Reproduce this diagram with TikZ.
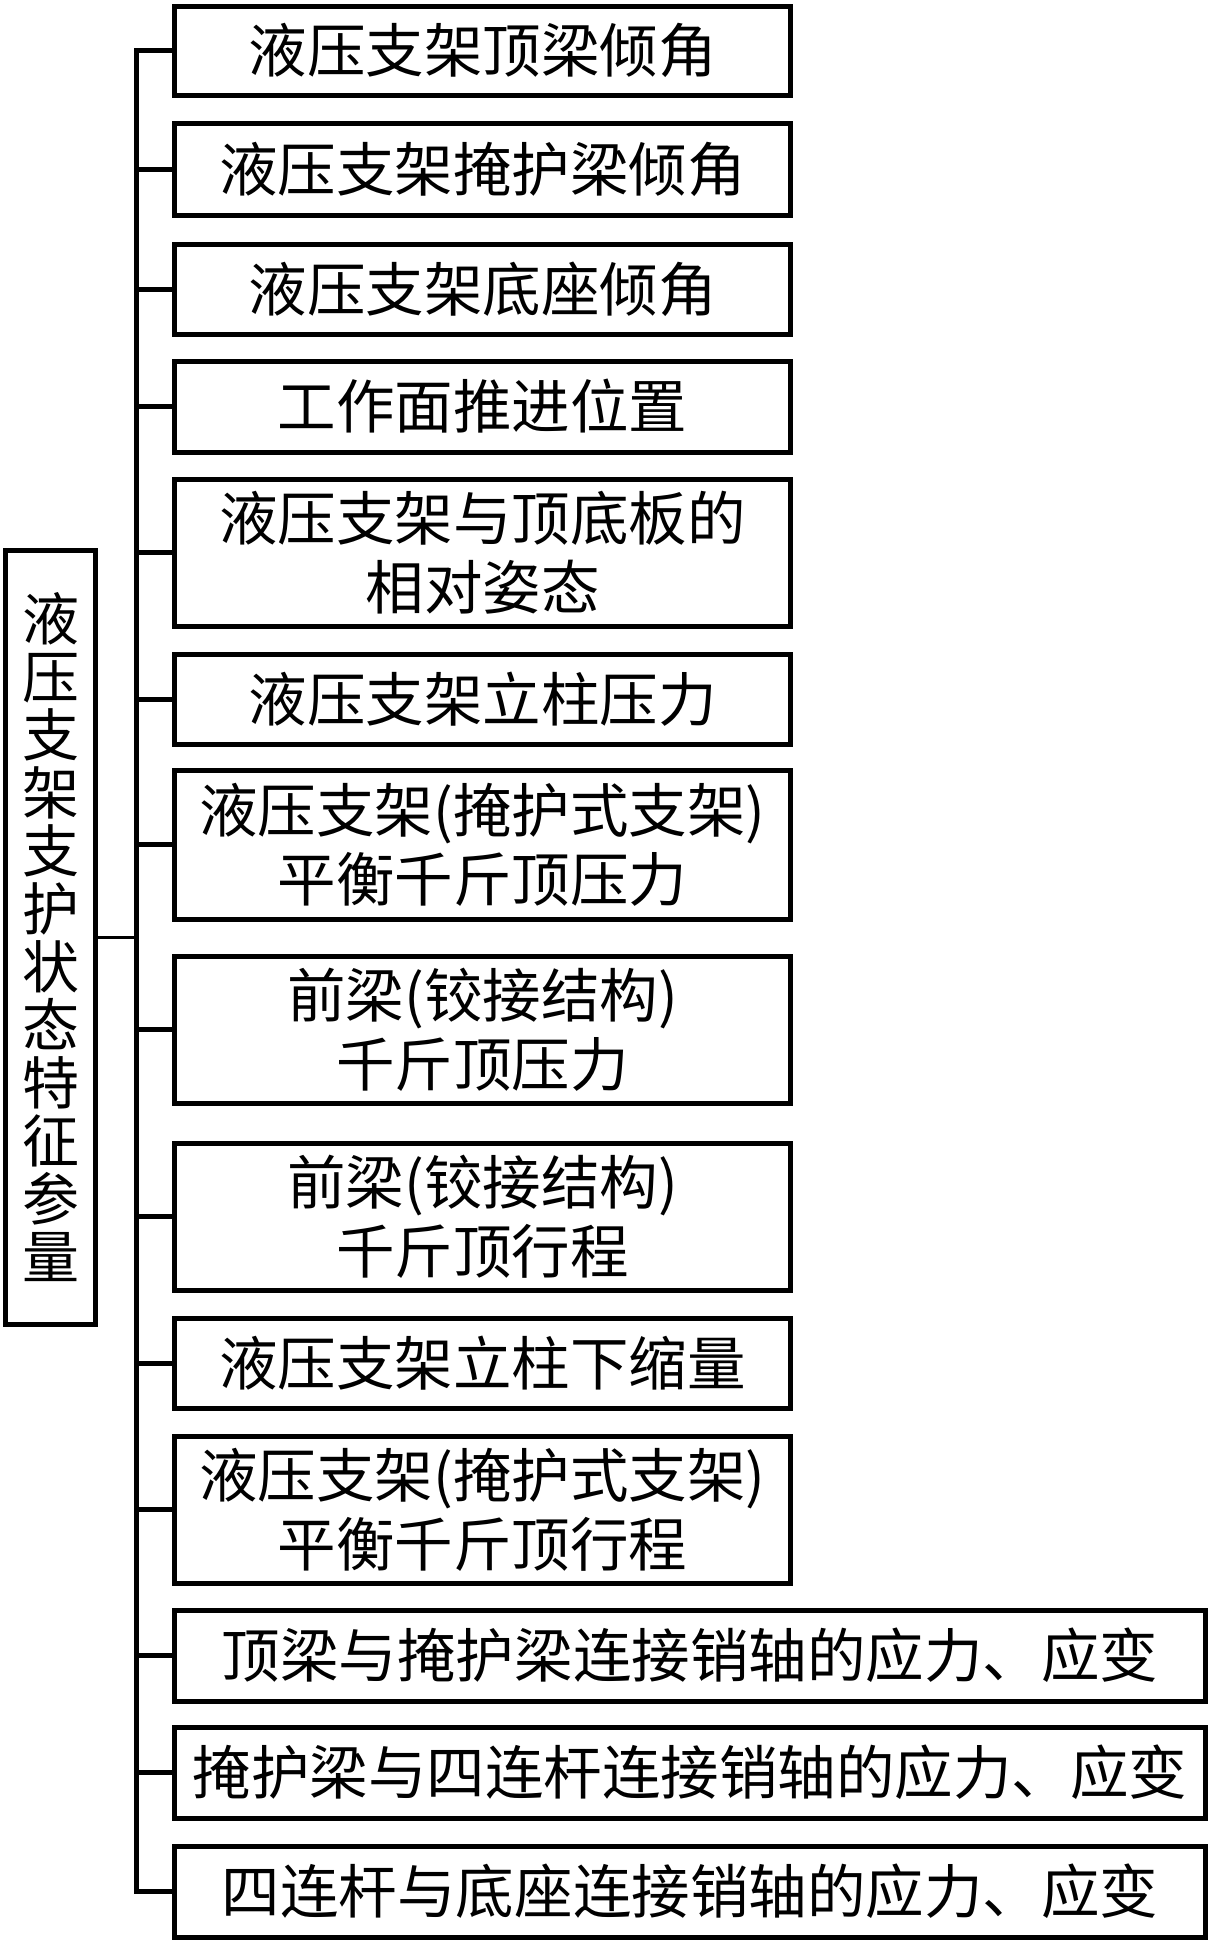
\documentclass[tikz,border=0pt]{standalone}
\usepackage{fontspec}
\newfontfamily\cjk{Noto Sans CJK SC}
\begin{document}
\begin{tikzpicture}[x=1bp,y=-1bp,
  box/.style={draw, line width=5bp, minimum width=615bp, inner sep=0pt,
    align=center, font=\cjk\fontsize{58.5bp}{69bp}\selectfont},
  longbox/.style={box, minimum width=1030bp},
  rootbox/.style={draw, line width=5bp, minimum width=89bp, minimum height=774bp,
    inner sep=0pt, align=center, font=\cjk\fontsize{57bp}{58bp}\selectfont},
  conn/.style={line width=5bp, line join=miter},
  rootconn/.style={line width=3bp}]
\useasboundingbox (0,0) rectangle (1207,1943);
\fill[white] (0,0) rectangle (1207,1943);
\node[rootbox] (root) at (50.5,937) {液\\压\\支\\架\\支\\护\\状\\态\\特\\征\\参\\量};
\coordinate (bus) at (136,0);
\node[box, minimum height=89bp] (n1) at (482.5,50.5) {液压支架顶梁倾角};
\node[box, minimum height=92bp] (n2) at (482.5,169) {液压支架掩护梁倾角};
\node[box, minimum height=90bp] (n3) at (482.5,289) {液压支架底座倾角};
\node[box, minimum height=91bp] (n4) at (482.5,406.5) {工作面推进位置};
\node[box, minimum height=147bp] (n5) at (482.5,552.5) {液压支架与顶底板的\\相对姿态};
\node[box, minimum height=90bp] (n6) at (482.5,699) {液压支架立柱压力};
\node[box, minimum height=149bp] (n7) at (482.5,844.5) {液压支架(掩护式支架)\\平衡千斤顶压力};
\node[box, minimum height=147bp] (n8) at (482.5,1029.5) {前梁(铰接结构)\\千斤顶压力};
\node[box, minimum height=147bp] (n9) at (482.5,1216.5) {前梁(铰接结构)\\千斤顶行程};
\node[box, minimum height=90bp] (n10) at (482.5,1363) {液压支架立柱下缩量};
\node[box, minimum height=147bp] (n11) at (482.5,1509.5) {液压支架(掩护式支架)\\平衡千斤顶行程};
\node[longbox, minimum height=91bp] (n12) at (690,1655.5) {顶梁与掩护梁连接销轴的应力、应变};
\node[longbox, minimum height=91bp] (n13) at (690,1772.5) {掩护梁与四连杆连接销轴的应力、应变};
\node[longbox, minimum height=91bp] (n14) at (690,1891.5) {四连杆与底座连接销轴的应力、应变};
\draw[conn] (n1.west) -- (n1.west -| bus) -- (n14.west -| bus) -- (n14.west);
\foreach \k in {2,...,13} {\draw[conn] (n\k.west -| bus) -- (n\k.west);}
\draw[rootconn] (root.east) -- (root.east -| bus);
\end{tikzpicture}
\end{document}
